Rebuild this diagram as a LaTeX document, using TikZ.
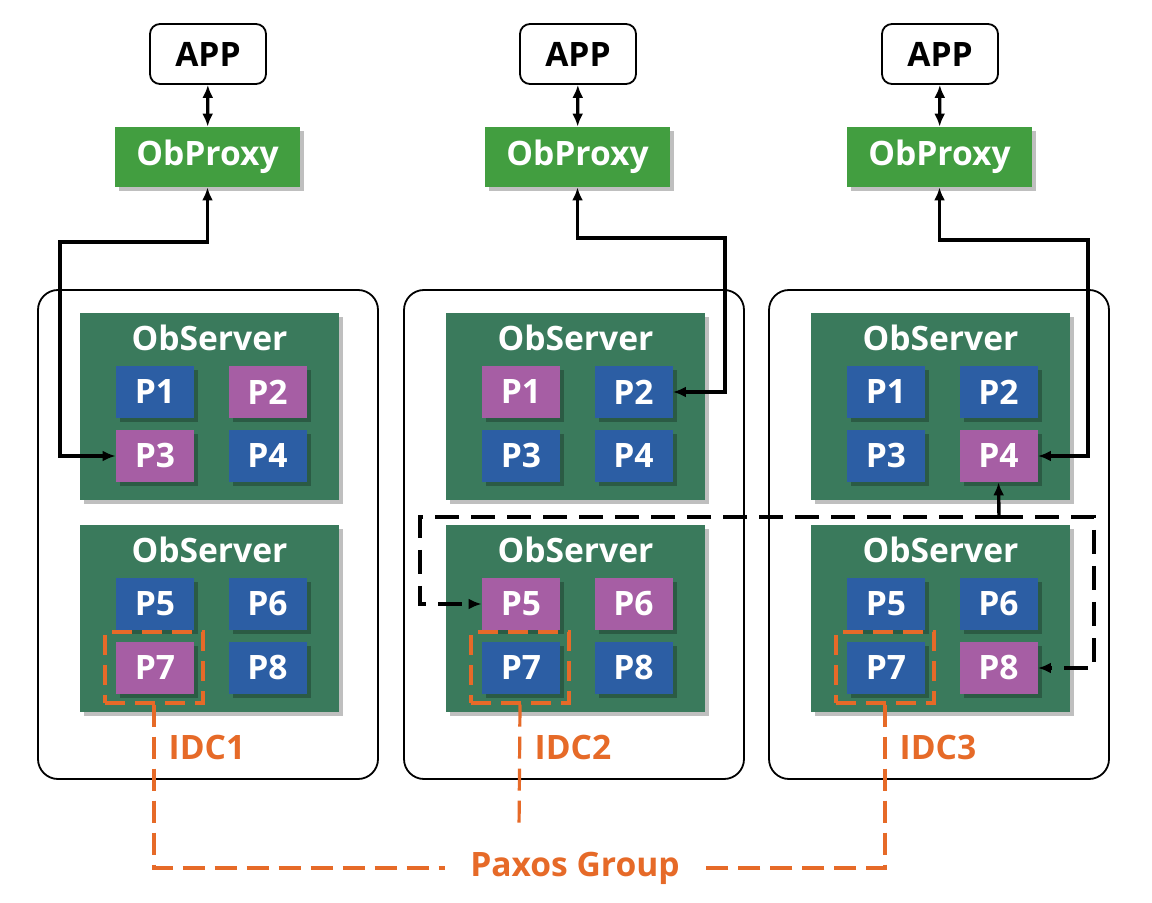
\documentclass[tikz,border=0pt]{standalone}
\usepackage{fontspec}
\setmainfont{Open Sans}
\usetikzlibrary{shadows,arrows.meta}
\definecolor{prxgreen}{RGB}{66,158,64}
\definecolor{srvgreen}{RGB}{58,122,92}
\definecolor{pblue}{RGB}{44,94,164}
\definecolor{ppurple}{RGB}{166,94,164}
\definecolor{pxorange}{RGB}{230,106,40}
\newcommand{\lblfont}{\fontsize{16.8}{20}\selectfont\bfseries}

\tikzset{
  shad/.style={drop shadow={shadow xshift=2pt,shadow yshift=-2pt,opacity=0.25,fill=black}},
  app/.style={draw,rounded corners=5pt,line width=0.9pt,minimum width=58pt,minimum height=30pt,font=\lblfont},
  proxy/.style={fill=prxgreen,shad,text=white,minimum width=92.5pt,minimum height=30pt,font=\lblfont},
  idc/.style={draw,rounded corners=10pt,line width=0.9pt,minimum width=170pt,minimum height=244.5pt},
  server/.style={fill=srvgreen,shad,minimum width=129.5pt,minimum height=93.5pt},
  srvtxt/.style={text=white,font=\lblfont,inner sep=0pt},
  part/.style={shad,text=white,minimum width=39pt,minimum height=26pt,inner sep=0pt,font=\lblfont},
  grp/.style={draw=pxorange,line width=1.6pt,dash pattern=on 10pt off 5pt,minimum width=49pt,minimum height=35.5pt},
  idctxt/.style={text=pxorange,font=\lblfont,inner sep=0pt},
  conn/.style={line width=1.7pt},
  dline/.style={dash pattern=on 12pt off 6pt},
  pxline/.style={draw=pxorange,line width=1.6pt,dash pattern=on 11pt off 5pt},
}

\begin{document}
\begin{tikzpicture}[x=0.5pt,y=-0.5pt,>={Latex[length=6.5pt,width=5.5pt]}]
  \useasboundingbox (0,0) rectangle (1152,903);

  % one column per IDC: offsets for the lower part and the top part, then the leaders
  \foreach \c/\dx/\tx/\la/\lb/\lc in {1/0/0/2/3/7, 2/366/370/1/5/6, 3/731/732/4/8/0} {
    \node[app] (app\c) at (208+\tx,54) {APP};
    \node[proxy] (prx\c) at (207.5+\tx,157) {ObProxy};
    \draw[conn,<->] (app\c) -- (prx\c);
    \node[idc] (idc\c) at (208+\dx,534.5) {};
    \node[server] (srvt\c) at (209.5+\dx,406.5) {};
    \node[server] (srvb\c) at (209.5+\dx,618.5) {};
    \node[srvtxt] (stt\c) at (209.5+\dx,338) {ObServer};
    \node[srvtxt] (stb\c) at (209.5+\dx,550) {ObServer};
    \foreach \i/\x/\y in {1/155/392, 2/267.5/392, 3/155/456, 4/267.5/456,
                          5/155/604, 6/267.5/604, 7/155/668, 8/267.5/668} {
      \pgfmathtruncatemacro\lead{(\i==\la)||(\i==\lb)||(\i==\lc)}
      \ifnum\lead=1 \def\pfill{ppurple}\else\def\pfill{pblue}\fi
      \node[part,fill=\pfill] (p\c-\i) at (\x+\dx,\y) {P\i};
    }
    \node[grp] (grp\c) at (154+\dx,667.5) {};
    \node[idctxt] (idl\c) at (207+\dx,747) {IDC\c};
  }

  % ObProxy to the leader
  \coordinate (b1) at (60,242);
  \coordinate (b2) at (725,238);
  \coordinate (b3) at (1088,240);
  \draw[conn,<->] (prx1.south) |- (b1) |- (p1-3.west);
  \draw[conn,<->] (prx2.south) |- (b2) |- (p2-2.east);
  \draw[conn,<->] (prx3.south) |- (b3) |- (p3-4.east);

  % P4 leader to its followers
  \coordinate (lk) at (999,517);
  \coordinate (dl) at (420,604);
  \coordinate (dr) at (1094,668);
  \draw[conn,dline,->] (lk) -| (dl) -- (p2-5.west);
  \draw[conn,dline,->] (lk) -| (dr) -- (p3-8.east);
  \draw[conn,->] (lk) -- (p3-4.south);

  % paxos group
  \node[idctxt,minimum width=130pt] (pg) at (575,868) {Paxos Group};
  \coordinate (pe) at (519,832);
  \draw[pxline] (grp1.south) |- (pg.west);
  \draw[pxline] (grp3.south) |- (pg.east);
  \draw[pxline] (grp2.south) -- (pe);
\end{tikzpicture}
\end{document}
